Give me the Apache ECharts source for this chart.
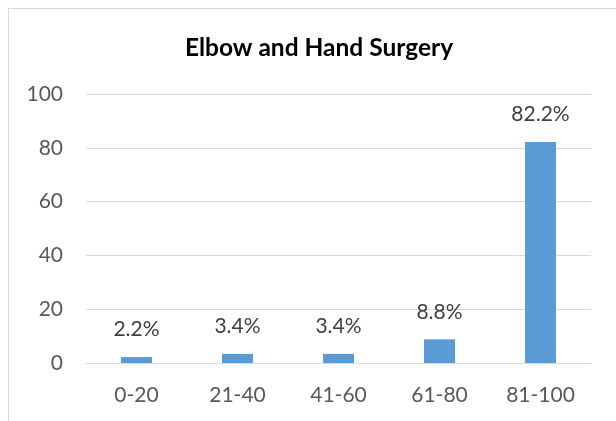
<!DOCTYPE html>
<html>
<head>
<meta charset="utf-8">
<script src="https://cdn.jsdelivr.net/npm/echarts@6/dist/echarts.min.js"></script>
<style>
  html, body { margin: 0; padding: 0; background: #fff; }
  #wrap { position: relative; width: 616px; height: 421px; overflow: hidden; }
  #frame {
    position: absolute; left: 8px; top: 8px; width: 700px; height: 500px;
    border-top: 1px solid #d9d9d9; border-left: 1px solid #d9d9d9;
  }
  #chart { position: absolute; left: 0; top: 0; width: 616px; height: 421px; }
</style>
</head>
<body>
<div id="wrap">
  <div id="frame"></div>
  <div id="chart"></div>
</div>
<script>
const categories = ['0-20', '21-40', '41-60', '61-80', '81-100'];
const percents = [2.2, 3.4, 3.4, 8.8, 82.2];
const yTicks = { min: 0, max: 100, step: 20 };
const chartTitle = 'Elbow and Hand Surgery';

const font = 'Lato, "Open Sans", sans-serif';
let myChart = echarts.init(document.getElementById('chart'));

let option = {
  animation: false,
  title: {
    text: chartTitle,
    left: 314,
    top: 31,
    textAlign: 'center',
    textStyle: {
      fontFamily: font,
      fontSize: 24.5,
      fontWeight: 'bold',
      color: '#000'
    }
  },
  grid: {
    left: 86,
    right: 25,
    top: 94,
    bottom: 58
  },
  xAxis: {
    type: 'category',
    data: categories,
    axisTick: { show: false },
    axisLine: { lineStyle: { color: '#d9d9d9', width: 1 } },
    axisLabel: {
      margin: 22,
      fontFamily: font,
      fontSize: 21,
      color: '#595959'
    }
  },
  yAxis: {
    type: 'value',
    min: yTicks.min,
    max: yTicks.max,
    interval: yTicks.step,
    axisLine: { show: false },
    axisTick: { show: false },
    splitLine: { lineStyle: { color: '#d9d9d9', width: 1 } },
    axisLabel: {
      margin: 23,
      fontFamily: font,
      fontSize: 21,
      color: '#595959'
    }
  },
  series: [
    {
      type: 'bar',
      data: percents,
      barWidth: 31,
      itemStyle: { color: '#5b9bd5' },
      label: {
        show: true,
        position: 'top',
        distance: 17,
        formatter: '{c}%',
        fontFamily: font,
        fontSize: 21,
        color: '#404040'
      }
    }
  ]
};
myChart.setOption(option);
</script>
</body>
</html>
